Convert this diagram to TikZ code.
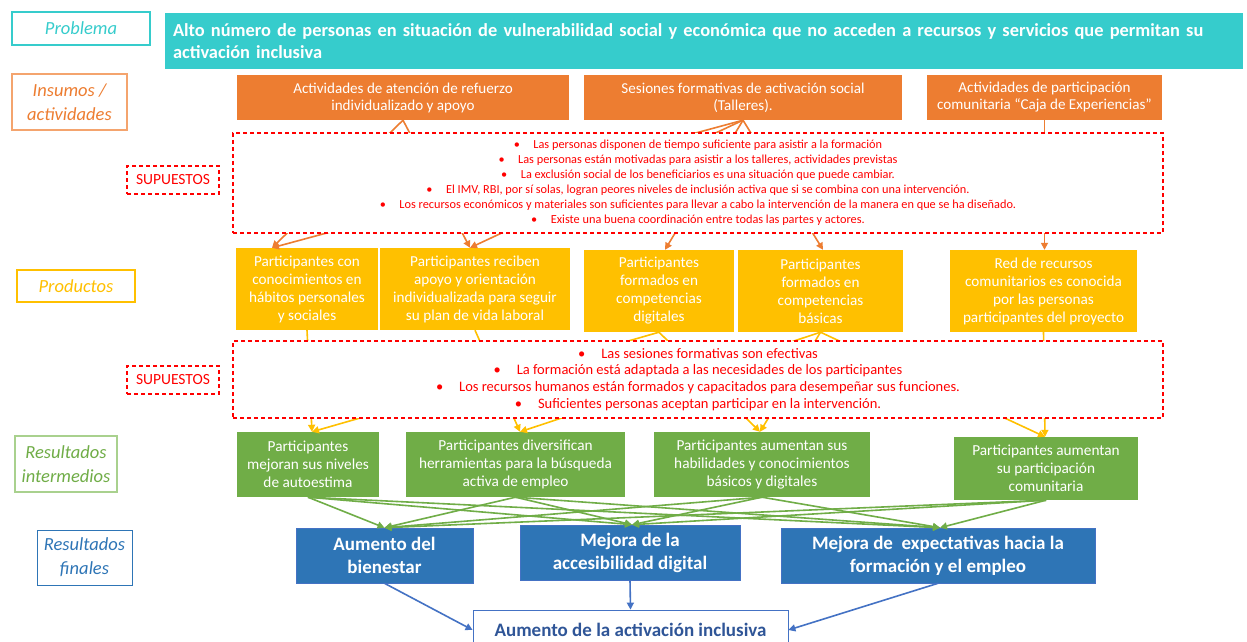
\documentclass[tikz,border=0pt]{standalone}
\usepackage{fontspec}
\setmainfont{Carlito}
\usetikzlibrary{arrows.meta,calc}
\definecolor{tealc}{HTML}{36CCCC}
\definecolor{orng}{HTML}{ED7D31}
\definecolor{orngl}{HTML}{F4A46E}
\definecolor{yel}{HTML}{FFC000}
\definecolor{grn}{HTML}{70AD47}
\definecolor{grnl}{HTML}{A9D18E}
\definecolor{blu}{HTML}{2E75B6}
\definecolor{blua}{HTML}{4472C4}
\definecolor{dblu}{HTML}{2F5597}
\definecolor{rd}{HTML}{FF0000}
\newcommand\fsz[2]{\fontsize{#1}{#2}\selectfont}
\newcommand\bul{\textbullet\hspace{1.1em}}
\tikzset{
  lbl/.style={draw, line width=1.4pt, fill=white, align=center, inner sep=0pt, font=\fsz{18.5}{24}\itshape},
  supl/.style={draw=rd, dash pattern=on 4pt off 3pt, line width=1.2pt, text=rd, inner sep=0pt, minimum width=92pt, minimum height=28pt, font=\fsz{15.5}{16}},
  supbox/.style={draw=rd, fill=white, dash pattern=on 4pt off 3pt, line width=1.2pt, text=rd, align=center, inner sep=0pt, minimum width=930pt},
  obox/.style={fill=orng, text=white, align=center, inner sep=0pt, minimum height=45pt, font=\fsz{15.1}{17}},
  ybox/.style={fill=yel, text=white, align=center, inner sep=0pt, minimum height=82pt, font=\fsz{15.2}{18}},
  gbox/.style={fill=grn, text=white, align=center, inner sep=0pt, font=\fsz{15.3}{18}},
  bbox/.style={fill=blu, draw=blua, line width=0.6pt, text=white, align=center, inner sep=0pt, minimum height=55pt, font=\fsz{19}{23}\bfseries},
  oarr/.style={draw=orng, line width=1.6pt, -{Triangle[length=7pt,width=7pt]}},
  yarr/.style={draw=yel, line width=1.6pt, -{Triangle[length=7pt,width=7pt]}},
  garr/.style={draw=grn, line width=1.6pt, -{Triangle[length=7pt,width=7pt]}},
  barr/.style={draw=blua, line width=1.6pt, -{Triangle[length=7pt,width=7pt]}},
}
\begin{document}
\begin{tikzpicture}[x=1pt,y=-1pt]
\useasboundingbox (0,0) rectangle (1247,642);
\clip (0,0) rectangle (1247,642);
\fill[white] (0,0) rectangle (1247,642);

% left labels
\node[lbl, draw=tealc, text=tealc, minimum width=138pt, minimum height=33pt] (lProb) at (81,28.5) {Problema};
\node[lbl, draw=orngl, text=orng, minimum width=115pt, minimum height=56pt] (lIns) at (69.5,102) {Insumos /\\actividades};
\node[supl] (lSup1) at (173,180) {SUPUESTOS};
\node[lbl, draw=yel, text=yel, minimum width=118pt, minimum height=32pt] (lProd) at (76,286) {Productos};
\node[supl] (lSup2) at (173,380) {SUPUESTOS};
\node[lbl, draw=grnl, text=grn, minimum width=102pt, minimum height=56pt] (lRI) at (66,464) {Resultados\\intermedios};
\node[lbl, draw=blu, line width=0.8pt, text=blu, minimum width=95pt, minimum height=55pt] (lRF) at (84.5,557.5) {Resultados\\finales};

% problem
\node[fill=tealc, text=white, align=left, text width=1062pt, inner xsep=8pt, inner ysep=0pt, minimum height=56pt, font=\fsz{18.4}{22}\bfseries] (Prob) at (704,41)
 {Alto número de personas en situación de vulnerabilidad social y económica que no acceden a recursos y servicios que permitan su\\activación inclusiva};

% inputs
\node[obox, minimum width=332pt] (I1) at (403,97.5) {Actividades de atención de refuerzo\\individualizado y apoyo};
\node[obox, minimum width=318pt] (I2) at (743,97.5) {Sesiones formativas de activación social\\(Talleres).};
\node[obox, minimum width=235pt] (I3) at (1044.5,97.5) {Actividades de participación\\comunitaria “Caja de Experiencias”};

% products
\node[ybox, minimum width=142pt] (P1) at (307,289) {Participantes con\\conocimientos en\\hábitos personales\\y sociales};
\node[ybox, minimum width=190pt] (P2) at (475,289) {Participantes reciben\\apoyo y orientación\\individualizada para seguir\\su plan de vida laboral};
\node[ybox, minimum width=150pt] (P3) at (659,291) {Participantes\\formados en\\competencias\\digitales};
\node[ybox, minimum width=165pt] (P4) at (820.5,291) {Participantes\\formados en\\competencias\\básicas};
\node[ybox, minimum width=187pt] (P5) at (1043.5,291) {Red de recursos\\comunitarios es conocida\\por las personas\\participantes del proyecto};

% intermediate results
\node[gbox, minimum width=142pt, minimum height=65pt] (R1) at (308,464.5) {Participantes\\mejoran sus niveles\\de autoestima};
\node[gbox, minimum width=219pt, minimum height=65pt] (R2) at (515.5,464.5) {Participantes diversifican\\herramientas para la búsqueda\\activa de empleo};
\node[gbox, minimum width=216pt, minimum height=65pt] (R3) at (762,464.5) {Participantes aumentan sus\\habilidades y conocimientos\\básicos y digitales};
\node[gbox, minimum width=184pt, minimum height=63pt] (R4) at (1046,468.5) {Participantes aumentan\\su participación\\comunitaria};

% final results
\node[bbox, minimum width=177pt] (F1) at (384.5,555.5) {Aumento del\\bienestar};
\node[bbox, minimum width=220pt] (F2) at (630,552.5) {Mejora de la\\accesibilidad digital};
\node[bbox, minimum width=314pt] (F3) at (938,555.5) {Mejora de\ \ expectativas hacia la\\formación y el empleo};
\node[draw=blua, line width=0.8pt, fill=white, text=dblu, minimum width=315pt, minimum height=40pt, inner sep=0pt, font=\fsz{19}{20}\bfseries] (Fin) at (630.5,630) {Aumento de la activación inclusiva};

% orange arrows (inputs -> products)
\draw[oarr] (I1.south) -- ([xshift=-35pt]P1.north);
\draw[oarr] (I1.south) -- ([xshift=-5pt]P2.north);
\draw[oarr] (I2.south) -- ([xshift=-35pt]P1.north);
\draw[oarr] (I2.south) -- ([xshift=-5pt]P2.north);
\draw[oarr] (I2.south) -- ([xshift=6pt]P3.north);
\draw[oarr] (I2.south) -- ([xshift=2.5pt]P4.north);
\draw[oarr] (I3.south) -- ([xshift=1pt]P5.north);

% yellow arrows (products -> intermediate results)
\draw[yarr] (P1.south) -- ([xshift=4pt]R1.north);
\draw[yarr] (P3.south) -- ([xshift=4pt]R1.north);
\draw[yarr] (P2.south) -- ([xshift=4.5pt]R2.north);
\draw[yarr] (P4.south) -- ([xshift=4.5pt]R2.north);
\draw[yarr] (P3.south) -- ([xshift=-2pt]R3.north);
\draw[yarr] (P4.south) -- ([xshift=-2pt]R3.north);
\draw[yarr] (P4.south) -- ([xshift=-1pt]R4.north);
\draw[yarr] (P5.south) -- ([xshift=-1pt]R4.north);

% green arrows (intermediate -> final)
\foreach \r in {R1,R2,R3,R4}{
  \draw[garr] (\r.south) -- (F1.north);
  \draw[garr] (\r.south) -- ([xshift=2pt]F2.north);
  \draw[garr] (\r.south) -- ([xshift=2pt]F3.north);
}

% blue arrows
\draw[barr] (F1.south) -- (Fin.west);
\draw[barr] (F2.south) -- (Fin.north);
\draw[barr] (F3.south) -- (Fin.east);

% assumptions boxes (on top of the hidden connector parts)
\node[supbox, minimum height=100pt, font=\fsz{12.3}{15}] (S1) at (698,183)
 {\bul Las personas disponen de tiempo suficiente para asistir a la formación\\
  \bul Las personas están motivadas para asistir a los talleres, actividades previstas\\
  \bul La exclusión social de los beneficiarios es una situación que puede cambiar.\\
  \bul El IMV, RBI, por sí solas, logran peores niveles de inclusión activa que si se combina con una intervención.\\
  \bul Los recursos económicos y materiales son suficientes para llevar a cabo la intervención de la manera en que se ha diseñado.\\
  \bul Existe una buena coordinación entre todas las partes y actores.};
\node[supbox, minimum height=77pt, font=\fsz{14.5}{16.7}] (S2) at (698,379.5)
 {\bul Las sesiones formativas son efectivas\\
  \bul La formación está adaptada a las necesidades de los participantes\\
  \bul Los recursos humanos están formados y capacitados para desempeñar sus funciones.\\
  \bul Suficientes personas aceptan participar en la intervención.};
\end{tikzpicture}
\end{document}
